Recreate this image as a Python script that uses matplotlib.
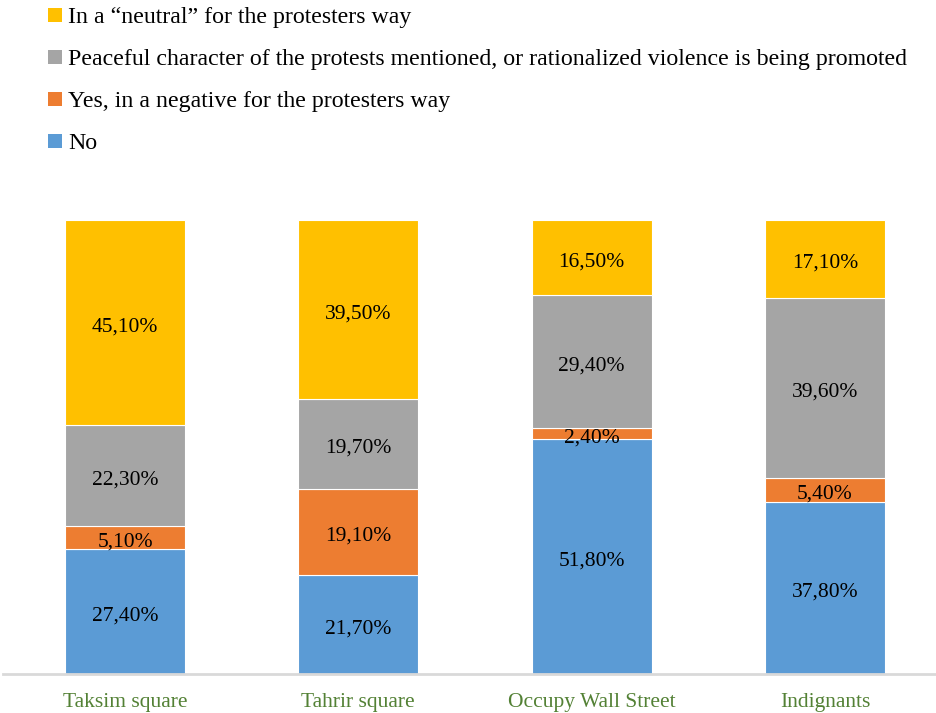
import matplotlib.pyplot as plt
from matplotlib.patches import Patch
import numpy as np

plt.rcParams['font.family'] = ['Liberation Serif', 'DejaVu Serif']

categories = ["Taksim square", "Tahrir square", "Occupy Wall Street", "Indignants"]
no = [27.4, 21.7, 51.8, 37.8]
negative = [5.1, 19.1, 2.4, 5.4]
peaceful = [22.3, 19.7, 29.4, 39.6]
neutral = [45.1, 39.5, 16.5, 17.1]

series = [
    ("No", no, "#5B9BD5"),
    ("Yes, in a negative for the protesters way", negative, "#ED7D31"),
    ("Peaceful character of the protests mentioned, or rationalized violence is being promoted", peaceful, "#A5A5A5"),
    ("In a \u201cneutral\u201d for the protesters way", neutral, "#FFC000"),
]

totals = np.sum([s[1] for s in series], axis=0)

fig = plt.figure(figsize=(9.36, 7.13), dpi=100)
ax = fig.add_axes([3 / 936, 39 / 713, 932 / 936, 454 / 713])

x = np.arange(len(categories))
bottom = np.zeros(len(categories))
for name, vals, color in series:
    vals = np.array(vals)
    h = vals / totals
    ax.bar(x, h, 0.514, bottom=bottom, color=color, edgecolor="white", linewidth=0.8)
    for xi, b, hi, v in zip(x, bottom, h, vals):
        ax.text(xi, b + hi / 2 - 0.004, f"{v:.2f}%".replace(".", ","), ha="center",
                va="center_baseline", fontsize=15.5, color="#000000")
    bottom += h

ax.set_xlim(-0.523, 3.472)
ax.set_ylim(0, 1)
ax.set_yticks([])
ax.set_xticks(x)
ax.set_xticklabels(categories, fontsize=15.5, color="#538135")
ax.tick_params(axis="x", length=0, pad=14)
for sp in ["top", "left", "right"]:
    ax.spines[sp].set_visible(False)
ax.spines["bottom"].set_color("#D9D9D9")
ax.spines["bottom"].set_linewidth(2)

handles = [Patch(facecolor=c, edgecolor="none", label=n) for n, _, c in reversed(series)]
fig.legend(handles=handles, loc="upper left", bbox_to_anchor=(46 / 936, 1 - 5 / 713), frameon=False,
           fontsize=17.2, handlelength=0.58, handleheight=0.58, handletextpad=0.25,
           labelspacing=0.88, borderaxespad=0, borderpad=0.1)

fig.savefig("out.png", dpi=100)
